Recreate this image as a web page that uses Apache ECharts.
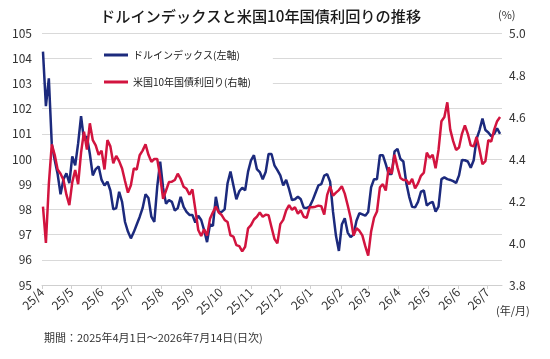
<!DOCTYPE html>
<html lang="ja">
<head>
    <meta charset="UTF-8">
    <title>ドルインデックスと米国10年国債利回りの推移</title>
    <script type="text/javascript" src="https://cdn.jsdelivr.net/npm/echarts@6/dist/echarts.min.js"></script>
    <style>
        html, body { margin: 0; padding: 0; background: #fff; }
        #container { width: 550px; height: 359px; }
    </style>
</head>
<body>
<div id="container"></div>
<script type="text/javascript">
    // 3日おきに読み取った値（2025/4/2 〜 2026/7/14）
    var startYear = 2025, startMonth = 3, startDay = 2, stepDays = 3;

    var dollarIndex = [
        104.26, 102.1, 103.2, 100.6, 99.96, 99.4, 98.6, 99.2, 99.43, 99.04,
        100.1, 99.75, 100.62, 101.7, 100.75, 100.9, 100.2, 99.35, 99.6, 99.7,
        99.17, 98.95, 99.1, 98.75, 98.0, 98.05, 98.7, 98.3, 97.5, 97.12,
        96.85, 97.1, 97.4, 97.7, 98.05, 98.6, 98.45, 97.71, 97.5, 98.9,
        99.9, 98.85, 98.22, 98.37, 98.3, 97.95, 98.05, 98.5, 98.1, 97.9,
        97.78, 97.78, 97.48, 97.75, 97.58, 97.18, 96.7, 97.4, 97.35, 98.5,
        97.9, 97.9, 98.0, 99.04, 99.5, 98.95, 98.4, 98.72, 98.86, 98.76,
        99.5, 99.95, 100.15, 99.6, 99.48, 99.2, 99.48, 100.2, 100.2, 99.75,
        99.56, 99.35, 98.95, 99.17, 98.8, 98.37, 98.4, 98.5, 98.4, 98.07,
        98.06, 98.11, 98.35, 98.65, 98.95, 99.0, 99.34, 99.4, 99.1, 97.9,
        96.95, 96.35, 97.4, 97.65, 97.08, 96.9, 97.0, 97.55, 97.85, 97.8,
        97.75, 97.9, 98.88, 99.2, 99.2, 100.15, 100.15, 99.8, 99.4, 99.4,
        100.3, 100.4, 100.0, 99.9, 99.05, 98.5, 98.1, 98.08, 98.3, 98.7,
        98.75, 98.15, 98.25, 98.3, 97.91, 98.11, 99.2, 99.27, 99.2, 99.17,
        99.12, 99.05, 99.35, 99.96, 99.95, 99.9, 99.65, 99.95, 100.8, 101.15,
        101.6, 101.15, 101.05, 100.9, 101.0, 101.22, 101.0
    ];

    var treasury10y = [
        4.173, 4.0, 4.28, 4.47, 4.42, 4.35, 4.33, 4.30, 4.23, 4.18,
        4.29, 4.348, 4.28, 4.43, 4.53, 4.445, 4.57, 4.49, 4.465, 4.42,
        4.44, 4.35, 4.49, 4.46, 4.38, 4.415, 4.39, 4.355, 4.295, 4.24,
        4.275, 4.355, 4.35, 4.418, 4.44, 4.47, 4.42, 4.387, 4.40, 4.40,
        4.316, 4.21, 4.25, 4.29, 4.292, 4.30, 4.33, 4.305, 4.268, 4.258,
        4.23, 4.255, 4.16, 4.062, 4.033, 4.065, 4.035, 4.115, 4.146, 4.173,
        4.145, 4.133, 4.11, 4.10, 4.036, 4.03, 3.99, 3.985, 3.96, 3.982,
        4.07, 4.085, 4.112, 4.125, 4.145, 4.125, 4.135, 4.132, 4.075, 4.02,
        3.998, 4.09, 4.11, 4.155, 4.18, 4.158, 4.17, 4.14, 4.155, 4.125,
        4.12, 4.17, 4.17, 4.173, 4.178, 4.175, 4.135, 4.229, 4.27, 4.225,
        4.24, 4.252, 4.27, 4.235, 4.18, 4.12, 4.035, 4.07, 4.058, 4.036,
        3.985, 3.94, 4.055, 4.12, 4.15, 4.265, 4.28, 4.25, 4.36, 4.33,
        4.42, 4.36, 4.31, 4.30, 4.30, 4.28, 4.305, 4.26, 4.284, 4.32,
        4.335, 4.43, 4.405, 4.42, 4.356, 4.443, 4.58, 4.60, 4.67, 4.54,
        4.485, 4.443, 4.455, 4.52, 4.56, 4.52, 4.465, 4.46, 4.505, 4.443,
        4.375, 4.39, 4.49, 4.483, 4.54, 4.58, 4.6
    ];

    var leftTicks = { min: 95, max: 105, interval: 1 };
    var rightTicks = { min: 3.8, max: 5.0, interval: 0.2 };

    var seriesNames = ['ドルインデックス(左軸)', '米国10年国債利回り(右軸)'];
    var colors = ['#1c2a7d', '#d2143f'];
    var font = '"Noto Sans CJK JP", "Noto Sans", sans-serif';
    var titleFont = '"Noto Sans CJK JP Medium", "Noto Sans CJK JP", sans-serif';

    function toPairs(values) {
        var out = [];
        for (var i = 0; i < values.length; i++) {
            var d = new Date(startYear, startMonth, startDay + i * stepDays);
            out.push([d.getTime(), values[i]]);
        }
        return out;
    }

    var dom = document.getElementById('container');
    var myChart = echarts.init(dom, null, { renderer: 'canvas' });
    var DAY = 86400000;

    var option = {
        animation: false,
        backgroundColor: '#fff',
        textStyle: { fontFamily: font },
        title: {
            text: 'ドルインデックスと米国10年国債利回りの推移',
            left: 95,
            top: 4,
            textStyle: { fontSize: 15.2, fontWeight: 500, color: '#1a1a1a', fontFamily: titleFont }
        },
        grid: {
            left: 42, right: 48, top: 33, bottom: 74,
            containLabel: false,
            outerBoundsMode: 'none'
        },
        legend: {
            data: seriesNames,
            orient: 'vertical',
            left: 92,
            top: 44,
            padding: [4, 22, 4, 12],
            backgroundColor: '#fff',
            icon: 'rect',
            itemWidth: 24,
            itemHeight: 3,
            itemGap: 13,
            textStyle: { fontSize: 10, color: '#222', lineHeight: 14, fontFamily: font }
        },
        xAxis: {
            type: 'time',
            min: new Date(2025, 3, 1).getTime(),
            max: new Date(2026, 6, 16).getTime(),
            splitNumber: 15,
            minInterval: 28 * DAY,
            maxInterval: 31 * DAY,
            axisLine: { lineStyle: { color: '#cfcfcf', width: 1 } },
            axisTick: { show: true, length: 4, lineStyle: { color: '#cfcfcf' } },
            splitLine: { show: false },
            axisLabel: {
                rotate: 45,
                margin: 5,
                fontSize: 12,
                color: '#333',
                fontFamily: font,
                showMaxLabel: false,
                hideOverlap: false,
                formatter: function (v) {
                    var d = new Date(v);
                    return String(d.getFullYear()).slice(2) + '/' + (d.getMonth() + 1);
                }
            }
        },
        yAxis: [
            {
                type: 'value',
                min: leftTicks.min,
                max: leftTicks.max,
                interval: leftTicks.interval,
                axisLine: { show: false },
                axisTick: { show: false },
                splitLine: { lineStyle: { color: '#d9d9d9', width: 1 } },
                axisLabel: { fontSize: 12, color: '#333', margin: 10, fontFamily: font }
            },
            {
                type: 'value',
                min: rightTicks.min,
                max: rightTicks.max,
                interval: rightTicks.interval,
                axisLine: { show: false },
                axisTick: { show: false },
                splitLine: { show: false },
                axisLabel: {
                    fontSize: 12, color: '#333', margin: 7, fontFamily: font,
                    formatter: function (v) { return v.toFixed(1); }
                }
            }
        ],
        series: [
            {
                name: seriesNames[0],
                type: 'line',
                yAxisIndex: 0,
                data: toPairs(dollarIndex),
                showSymbol: false,
                symbol: 'none',
                lineStyle: { color: colors[0], width: 2.5 },
                itemStyle: { color: colors[0] },
                z: 2
            },
            {
                name: seriesNames[1],
                type: 'line',
                yAxisIndex: 1,
                data: toPairs(treasury10y),
                showSymbol: false,
                symbol: 'none',
                lineStyle: { color: colors[1], width: 2.5 },
                itemStyle: { color: colors[1] },
                z: 3
            }
        ],
        graphic: [
            {
                type: 'text', left: 498, top: 9,
                style: { text: '(%)', fontSize: 11, fill: '#333', fontFamily: font }
            },
            {
                type: 'text', left: 496, top: 305,
                style: { text: '(年/月)', fontSize: 11, fill: '#333', fontFamily: font }
            },
            {
                type: 'text', left: 44, top: 332,
                style: { text: '期間：2025年4月1日～2026年7月14日(日次)', fontSize: 11, fill: '#333', fontFamily: font }
            }
        ]
    };

    if (option && typeof option === 'object') {
        myChart.setOption(option, true);
    }
</script>
</body>
</html>
